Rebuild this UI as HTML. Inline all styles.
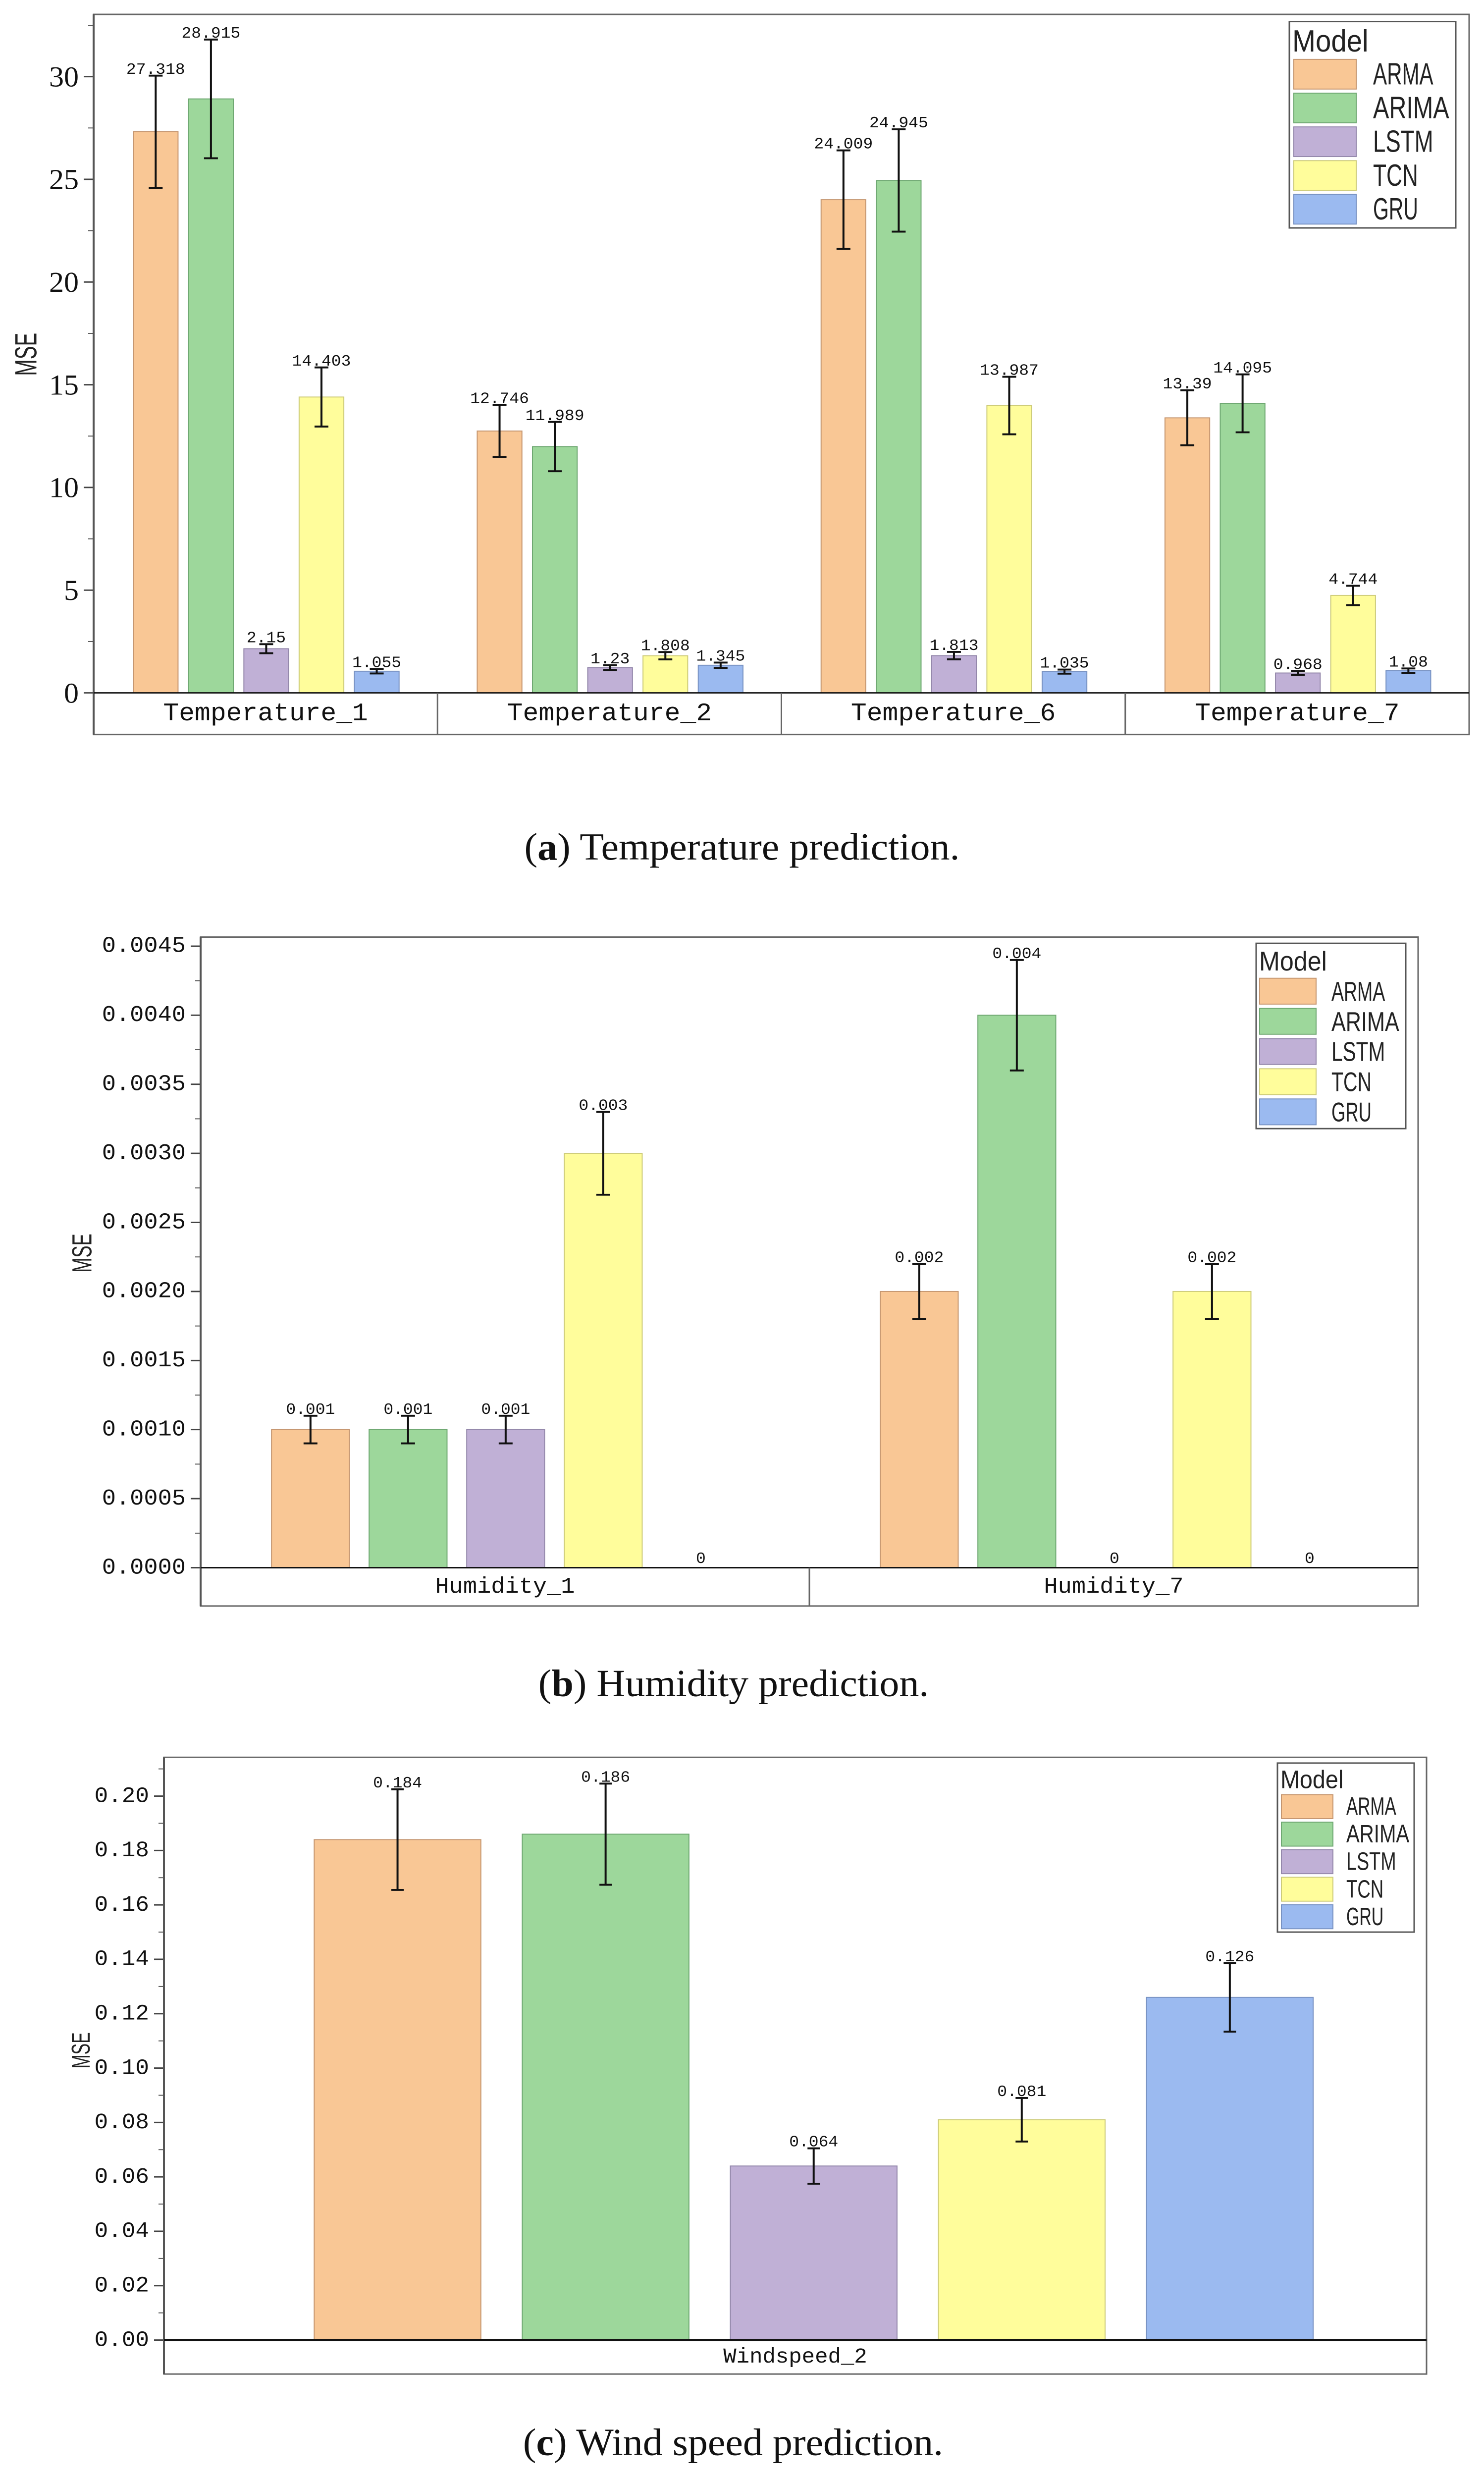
<!DOCTYPE html>
<html><head><meta charset="utf-8"><title>MSE comparison</title>
<style>
html,body{margin:0;padding:0;background:#fff;width:100%;height:100%;overflow:hidden;}
svg{display:block;width:100vw;height:100vh;}
.mono{font-family:"Liberation Mono","DejaVu Sans Mono",monospace;fill:#111;}
.serif{font-family:"Liberation Serif","DejaVu Serif",serif;fill:#111;}
.narrow{font-family:"Liberation Sans Narrow","Liberation Sans","DejaVu Sans",sans-serif;fill:#222;}
</style></head>
<body>
<svg id="fig" xmlns="http://www.w3.org/2000/svg" viewBox="0 0 2996 5173" preserveAspectRatio="none">
<rect x="0" y="0" width="2996" height="5173" fill="#fff"/>
<text class="serif" x="1498" y="1769" font-size="80" text-anchor="middle" dominant-baseline="central">(<tspan font-weight="bold">a</tspan>) Temperature prediction.</text>
<text class="serif" x="1481" y="3516" font-size="80" text-anchor="middle" dominant-baseline="central">(<tspan font-weight="bold">b</tspan>) Humidity prediction.</text>
<text class="serif" x="1480" y="5101" font-size="80" text-anchor="middle" dominant-baseline="central">(<tspan font-weight="bold">c</tspan>) Wind speed prediction.</text>
</svg>
<script>
const models = ["ARMA","ARIMA","LSTM","TCN","GRU"];
const fills = ["#f9c795","#9dd79b","#c0b0d6","#fffd9b","#9bbaf0"];
const strokes = ["#c59670","#6fa872","#9488ab","#cdcb7a","#7892c2"];
const legendEm = [1.9, 2.4, 1.9, 1.42, 1.42];

const tempCategories = ["Temperature_1","Temperature_2","Temperature_6","Temperature_7"];
const tempARMA  = [27.318, 12.746, 24.009, 13.39];
const tempARIMA = [28.915, 11.989, 24.945, 14.095];
const tempLSTM  = [2.15, 1.23, 1.813, 0.968];
const tempTCN   = [14.403, 1.808, 13.987, 4.744];
const tempGRU   = [1.055, 1.345, 1.035, 1.08];
const tempErrARMA  = [2.73, 1.27, 2.40, 1.34];
const tempErrARIMA = [2.89, 1.20, 2.49, 1.41];
const tempErrLSTM  = [0.22, 0.12, 0.18, 0.10];
const tempErrTCN   = [1.44, 0.18, 1.40, 0.47];
const tempErrGRU   = [0.11, 0.13, 0.10, 0.11];
const tempLabels = [["27.318","12.746","24.009","13.39"],["28.915","11.989","24.945","14.095"],["2.15","1.23","1.813","0.968"],["14.403","1.808","13.987","4.744"],["1.055","1.345","1.035","1.08"]];
const tempTicks = [0,5,10,15,20,25,30];
const tempTickLabels = ["0","5","10","15","20","25","30"];

const humCategories = ["Humidity_1","Humidity_7"];
const humARMA  = [0.001, 0.002];
const humARIMA = [0.001, 0.004];
const humLSTM  = [0.001, 0];
const humTCN   = [0.003, 0.002];
const humGRU   = [0, 0];
const humErrARMA  = [0.0001, 0.0002];
const humErrARIMA = [0.0001, 0.0004];
const humErrLSTM  = [0.0001, 0];
const humErrTCN   = [0.0003, 0.0002];
const humErrGRU   = [0, 0];
const humLabels = [["0.001","0.002"],["0.001","0.004"],["0.001","0"],["0.003","0.002"],["0","0"]];
const humTicks = [0,0.0005,0.001,0.0015,0.002,0.0025,0.003,0.0035,0.004,0.0045];
const humTickLabels = ["0.0000","0.0005","0.0010","0.0015","0.0020","0.0025","0.0030","0.0035","0.0040","0.0045"];

const windCategories = ["Windspeed_2"];
const windARMA  = [0.184];
const windARIMA = [0.186];
const windLSTM  = [0.064];
const windTCN   = [0.081];
const windGRU   = [0.126];
const windErrARMA  = [0.0185];
const windErrARIMA = [0.0186];
const windErrLSTM  = [0.0065];
const windErrTCN   = [0.0080];
const windErrGRU   = [0.0126];
const windLabels = [["0.184"],["0.186"],["0.064"],["0.081"],["0.126"]];
const windTicks = [0,0.02,0.04,0.06,0.08,0.1,0.12,0.14,0.16,0.18,0.2];
const windTickLabels = ["0.00","0.02","0.04","0.06","0.08","0.10","0.12","0.14","0.16","0.18","0.20"];

const NS = "http://www.w3.org/2000/svg";
const svg = document.getElementById("fig");
function mk(tag, attrs, parent){
  const e = document.createElementNS(NS, tag);
  for (const k in attrs) e.setAttribute(k, attrs[k]);
  (parent||svg).appendChild(e);
  return e;
}

function drawChart(c){
  const g = mk("g", {});
  
  
  const yScale = v => c.y0 - (v - c.vmin) * (c.y0 - c.yRef) / (c.vRef - c.vmin);
  const groupW = (c.right - c.left) / c.categories.length;
  const xBar = (gi, si) => c.left + gi * groupW + groupW * (c.off + si * c.step);
  const bw = groupW * c.bw;

  for (let v = c.vmin; v <= c.vMaxTick + 1e-12; v += c.minor) {
    const t = mk("line", {x1: c.left - 11, x2: c.left, y1: yScale(v), y2: yScale(v), stroke: "#555", "stroke-width": 2}, g);
    
    
  }
  c.ticks.forEach((v, i) => {
    const t = mk("line", {x1: c.left - 20, x2: c.left, y1: yScale(v), y2: yScale(v), stroke: "#444", "stroke-width": 3}, g);
    
    
    const tl = mk("text", {x: c.left - 30, y: yScale(v), "font-size": c.tickFont, "text-anchor": "end", "dominant-baseline": "central", class: c.tickClass}, g);
    tl.textContent = c.tickLabels[i];
    
    
  });

  c.series.forEach((ser, si) => {
    ser.forEach((v, gi) => {
      const x = xBar(gi, si);
      if (v > 0) {
        const r = mk("rect", {x: x, y: yScale(v), width: bw, height: c.y0 - yScale(v), fill: fills[si], stroke: strokes[si], "stroke-width": 2}, g);
        
        
      }
      const cx = x + bw / 2;
      const e = c.errs[si][gi];
      let topY = yScale(v);
      if (e > 0) {
        const hi = yScale(v + e), lo = yScale(v - e);
        topY = hi;
        const eb = mk("path", {d: `M${cx},${hi}L${cx},${lo}M${cx - c.cap/2},${hi}L${cx + c.cap/2},${hi}M${cx - c.cap/2},${lo}L${cx + c.cap/2},${lo}`, stroke: "#111", "stroke-width": 4, fill: "none"}, g);
        
        
      }
      const vl = mk("text", {x: cx, y: topY - (v > 0 ? 4 : 10), "font-size": c.valFont, "text-anchor": "middle", class: "mono"}, g);
      vl.textContent = c.labels[si][gi];
      
      
    });
  });

  const fr = mk("rect", {x: c.left, y: c.top, width: c.right - c.left, height: c.bottom - c.top, fill: "none", stroke: "#666", "stroke-width": 3}, g);
  
  
  const ax = mk("line", {x1: c.left, x2: c.left, y1: c.top, y2: c.bottom, stroke: "#555", "stroke-width": 4}, g);
  
  
  const base = mk("line", {x1: c.left, x2: c.right, y1: c.y0, y2: c.y0, stroke: "#111", "stroke-width": c.baseW}, g);
  
  
  c.categories.forEach((cat, gi) => {
    if (gi > 0) {
      const sp = mk("line", {x1: c.left + gi * groupW, x2: c.left + gi * groupW, y1: c.y0, y2: c.bottom, stroke: "#666", "stroke-width": 3}, g);
      
      
    }
    const cl = mk("text", {x: c.left + (gi + 0.5) * groupW, y: (c.y0 + c.bottom) / 2, "font-size": c.catFont, "text-anchor": "middle", "dominant-baseline": "central", class: "mono"}, g);
    cl.textContent = cat;
    
    
  });

  const yt = mk("text", {x: c.yTitle[0], y: c.yTitle[1], "font-size": c.yTitleFont, "text-anchor": "middle", "dominant-baseline": "central", class: "narrow", textLength: c.yTitleFont * 1.45, lengthAdjust: "spacingAndGlyphs", transform: `rotate(-90 ${c.yTitle[0]} ${c.yTitle[1]})`}, g);
  yt.textContent = "MSE";
  
  

  const L = c.legend;
  const lg = mk("g", {}, g);
  
  
  const lb = mk("rect", {x: L.x, y: L.y, width: L.w, height: L.h, fill: "#fff", stroke: "#555", "stroke-width": 3}, lg);
  
  
  const lt = mk("text", {x: L.x + 6, y: L.titleY, "font-size": L.font, "dominant-baseline": "central", class: "narrow", textLength: L.font * 2.4, lengthAdjust: "spacingAndGlyphs"}, lg);
  lt.textContent = "Model";
  
  
  models.forEach((m, i) => {
    const sy = L.rowY + i * L.rowStep;
    const sw = mk("rect", {x: L.swX, y: sy, width: L.swW, height: L.swH, fill: fills[i], stroke: strokes[i], "stroke-width": 2}, lg);
    
    
    const tx = mk("text", {x: L.textX, y: sy + L.swH / 2, "font-size": L.font, "dominant-baseline": "central", class: "narrow", textLength: L.font * legendEm[i], lengthAdjust: "spacingAndGlyphs"}, lg);
    tx.textContent = m;
    
    
  });
}

drawChart({
  id: "temperature", categories: tempCategories,
  series: [tempARMA, tempARIMA, tempLSTM, tempTCN, tempGRU],
  errs: [tempErrARMA, tempErrARIMA, tempErrLSTM, tempErrTCN, tempErrGRU],
  labels: tempLabels, ticks: tempTicks, tickLabels: tempTickLabels,
  left: 189, right: 2966, top: 30, bottom: 1534, y0: 1447, yRef: 160, vmin: 0, vRef: 30,
  vMaxTick: 32.5, minor: 2.5,
  off: 0.1155, step: 0.1607, bw: 0.13, cap: 28,
  tickFont: 60, tickClass: "serif", valFont: 33, catFont: 53, baseW: 3,
  yTitle: [52, 740], yTitleFont: 62,
  legend: {x: 2603, y: 45, w: 336, h: 431, titleY: 86, font: 64, swX: 2612, swW: 126, swH: 62, rowY: 124, rowStep: 70.5, textX: 2772}
});
drawChart({
  id: "humidity", categories: humCategories,
  series: [humARMA, humARIMA, humLSTM, humTCN, humGRU],
  errs: [humErrARMA, humErrARIMA, humErrLSTM, humErrTCN, humErrGRU],
  labels: humLabels, ticks: humTicks, tickLabels: humTickLabels,
  left: 405, right: 2863, top: 1957, bottom: 3354, y0: 3274, yRef: 1976, vmin: 0, vRef: 0.0045,
  vMaxTick: 0.0045, minor: 0.00025,
  off: 0.1165, step: 0.1603, bw: 0.128, cap: 28,
  tickFont: 47, tickClass: "mono", valFont: 33, catFont: 47, baseW: 3,
  yTitle: [165, 2617], yTitleFont: 56,
  legend: {x: 2536, y: 1970, w: 302, h: 387, titleY: 2007, font: 57, swX: 2543, swW: 114, swH: 54, rowY: 2043, rowStep: 63, textX: 2688}
});
drawChart({
  id: "windspeed", categories: windCategories,
  series: [windARMA, windARIMA, windLSTM, windTCN, windGRU],
  errs: [windErrARMA, windErrARIMA, windErrLSTM, windErrTCN, windErrGRU],
  labels: windLabels, ticks: windTicks, tickLabels: windTickLabels,
  left: 331, right: 2880, top: 3670, bottom: 4958, y0: 4887, yRef: 3751, vmin: 0, vRef: 0.2,
  vMaxTick: 0.21, minor: 0.01,
  off: 0.119, step: 0.1648, bw: 0.132, cap: 25,
  tickFont: 46, tickClass: "mono", valFont: 33, catFont: 44, baseW: 5,
  yTitle: [163, 4282], yTitleFont: 52,
  legend: {x: 2579, y: 3682, w: 276, h: 353, titleY: 3717, font: 53, swX: 2587, swW: 104, swH: 50, rowY: 3748, rowStep: 57.5, textX: 2718}
});
</script>
</body></html>
